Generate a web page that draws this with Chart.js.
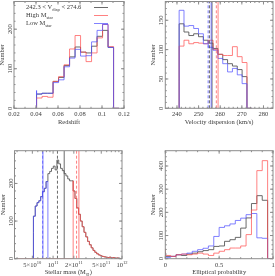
<!DOCTYPE html>
<html>
<head>
<meta charset="utf-8">
<script src="https://cdn.jsdelivr.net/npm/chart.js@4/dist/chart.umd.min.js"></script>
<style>
html, body { margin: 0; padding: 0; background: #fff; }
#wrap { position: relative; width: 275px; height: 276px; }
canvas { position: absolute; left: 0; top: 0; }
</style>
</head>
<body>
<div id="wrap">
<canvas id="zChart" width="275" height="276"></canvas>
<canvas id="vChart" width="275" height="276"></canvas>
<canvas id="mChart" width="275" height="276"></canvas>
<canvas id="pChart" width="275" height="276"></canvas>
</div>
<script>
// redshift histogram
let zEdges = [0.0405, 0.0455, 0.0505, 0.0555, 0.0605, 0.0655, 0.0705, 0.0755, 0.0805, 0.0855, 0.0905, 0.0955, 0.1005, 0.1055, 0.1105, 0.1155];
let zAll  = [34, 36, 38, 38, 68, 78, 108, 130, 155, 142, 140, 157, 182, 197, 154];
let zHigh = [22, 26, 30, 28, 68, 80, 110, 150, 184, 142, 118, 140, 178, 212, 156];
let zLow  = [45, 36, 38, 38, 65, 72, 105, 127, 149, 132, 133, 168, 197, 212, 154];
let zTicks = [0.02, 0.04, 0.06, 0.08, 0.1, 0.12];
let zTickLabels = ['0.02', '0.04', '0.06', '0.08', '0.1', '0.12'];
let legendLabels = ['242.3 < V_{disp} < 274.6', 'High M_{star}', 'Low M_{star}'];

// velocity dispersion histogram
let vEdges = [241.0, 243.24, 245.48, 247.72, 249.96, 252.2, 254.44, 256.68, 258.92, 261.16, 263.4, 265.64, 267.88, 270.12, 272.36, 274.6];
let vAll  = [45, 144, 130, 124, 127, 122, 116, 111, 102, 92, 83, 76, 72, 66, 54];
let vHigh = [34, 106, 116, 110, 112, 111, 110, 116, 100, 92, 90, 90, 105, 88, 78];
let vLow  = [50, 167, 140, 141, 136, 127, 110, 104, 99, 85, 76, 62, 68, 57, 42];
// [median, mean] of each sample
let vLowMarks = [254.4, 255.8];
let vAllMarks = [255.0, 256.2];
let vHighMarks = [258.2, 259.0];
let vTicks = [240, 250, 260, 270, 280];

// stellar mass histogram (log bins)
let mLogStart = 10.715, mLogWidth = 0.0262;
let mLow  = [70, 113, 140, 149, 154, 165, 178, 187, 205];
let mMid  = [226, 232, 240, 246, 236, 262, 252, 240, 234, 226, 220, 212, 207];
let mHigh = [207, 180, 160, 135, 118, 100, 85, 70, 58, 46, 37, 29, 22, 17, 13, 10, 8, 6, 5, 4, 3, 4, 2, 3, 1, 2, 1];
let mLowMarks = [7.05e10, 7.12e10];
let mAllMarks = [1.157e11, 1.449e11];
let mHighMarks = [2.19e11, 2.37e11];
let mTicks = [5e10, 1e11, 2e11, 5e11, 1e12];
let mTickLabels = ['5×10^{10}', '10^{11}', '2×10^{11}', '5×10^{11}', '10^{12}'];
let mMinor = [3e10, 4e10, 6e10, 7e10, 8e10, 9e10, 3e11, 4e11, 6e11, 7e11, 8e11, 9e11];

// elliptical probability histogram
let pEdges = [0, 0.05, 0.1, 0.15, 0.2, 0.25, 0.3, 0.35, 0.4, 0.45, 0.5, 0.55, 0.6, 0.65, 0.7, 0.75, 0.8, 0.85, 0.9, 0.95, 1];
let pAll  = [29, 10, 10, 17, 14, 20, 24, 30, 35, 39, 53, 55, 75, 82, 92, 132, 176, 238, 272, 252];
let pHigh = [43, 14, 10, 17, 20, 17, 20, 24, 20, 14, 24, 32, 39, 46, 46, 55, 104, 210, 380, 423];
let pLow  = [20, 6, 10, 17, 20, 24, 32, 39, 45, 55, 96, 135, 142, 150, 165, 175, 190, 195, 90, 88];

const FONT = '"Liberation Serif", "DejaVu Serif", serif';
const FS = 6.5;
const INK = '#3a3a3a';
const GRAY = 'rgba(80,80,80,0.85)';
const RED = 'rgba(255,80,80,0.72)';
const BLUE = 'rgba(80,80,255,0.72)';

function hist(edges, counts, color, from) {
    let pts = [];
    if (from !== undefined) pts.push({x: from, y: 0});
    pts.push({x: edges[0], y: 0});
    counts.forEach((c, i) => pts.push({x: edges[i], y: c}));
    pts.push({x: edges[counts.length], y: 0});
    return {data: pts, borderColor: color, borderWidth: 1, stepped: 'after', pointRadius: 0, fill: false};
}

function vline(x, top, color, dashed) {
    return {data: [{x: x, y: 0}, {x: x, y: top}], borderColor: color, borderWidth: 1,
            borderDash: dashed ? [3, 2] : [], pointRadius: 0, fill: false};
}

// text with _{sub} and ^{sup} parts
function richText(ctx, str, x, y, align) {
    let runs = [], re = /([_^])\{([^}]*)\}/g, last = 0, m;
    while ((m = re.exec(str))) {
        if (m.index > last) runs.push({t: str.slice(last, m.index), k: ''});
        runs.push({t: m[2], k: m[1]});
        last = re.lastIndex;
    }
    if (last < str.length) runs.push({t: str.slice(last), k: ''});
    let w = 0;
    runs.forEach(r => {
        ctx.font = (r.k ? FS * 0.7 : FS) + 'px ' + FONT;
        r.w = ctx.measureText(r.t).width;
        w += r.w;
    });
    let cx = align == 'center' ? x - w / 2 : align == 'right' ? x - w : x;
    ctx.textAlign = 'left';
    ctx.textBaseline = 'alphabetic';
    runs.forEach(r => {
        ctx.font = (r.k ? FS * 0.7 : FS) + 'px ' + FONT;
        let dy = r.k == '_' ? FS * 0.3 : r.k == '^' ? -FS * 0.45 : 0;
        ctx.fillText(r.t, cx, y + dy);
        cx += r.w;
    });
}

function axesFor(cfg) {
    return {
        id: 'axes',
        afterDraw(chart) {
            const ctx = chart.ctx, a = chart.chartArea, xs = chart.scales.x, ys = chart.scales.y;
            ctx.save();
            ctx.strokeStyle = '#8c8c8c';
            ctx.lineWidth = 1;
            ctx.strokeRect(a.left, a.top, a.right - a.left, a.bottom - a.top);
            ctx.beginPath();
            const xt = (v, len) => {
                let p = xs.getPixelForValue(v);
                ctx.moveTo(p, a.bottom); ctx.lineTo(p, a.bottom - len);
                ctx.moveTo(p, a.top); ctx.lineTo(p, a.top + len);
            };
            const yt = (v, len) => {
                let p = ys.getPixelForValue(v);
                ctx.moveTo(a.left, p); ctx.lineTo(a.left + len, p);
                ctx.moveTo(a.right, p); ctx.lineTo(a.right - len, p);
            };
            cfg.xTicks.forEach(v => xt(v, 3));
            cfg.xMinor.forEach(v => xt(v, 1.5));
            cfg.yTicks.forEach(v => yt(v, 3));
            cfg.yMinor.forEach(v => yt(v, 1.5));
            ctx.stroke();

            ctx.fillStyle = INK;
            cfg.xTicks.forEach((v, i) => richText(ctx, cfg.xLabels[i], xs.getPixelForValue(v), a.bottom + 8, 'center'));
            richText(ctx, cfg.xTitle, (a.left + a.right) / 2, a.bottom + 15.5, 'center');
            cfg.yTicks.forEach((v, i) => {
                ctx.save();
                ctx.translate(a.left - 2, ys.getPixelForValue(v));
                ctx.rotate(-Math.PI / 2);
                richText(ctx, String(v), 0, 0, 'center');
                ctx.restore();
            });
            ctx.save();
            ctx.translate(a.left - 10, (a.top + a.bottom) / 2);
            ctx.rotate(-Math.PI / 2);
            richText(ctx, 'Number', 0, 0, 'center');
            ctx.restore();

            if (cfg.legend) {
                cfg.legend.forEach((e, i) => {
                    let y = a.top + 6 + i * 8;
                    ctx.fillStyle = INK;
                    richText(ctx, e.text, a.left + 12, y + 1.5, 'left');
                    ctx.strokeStyle = e.color;
                    ctx.beginPath();
                    ctx.moveTo(a.left + 80, y); ctx.lineTo(a.left + 94, y);
                    ctx.stroke();
                });
            }
            ctx.restore();
        }
    };
}

function makeChart(id, area, xScale, yMax, datasets, cfg) {
    return new Chart(document.getElementById(id), {
        type: 'line',
        data: {datasets: datasets},
        options: {
            responsive: false,
            animation: false,
            devicePixelRatio: 1,
            events: [],
            layout: {padding: {left: area[0], right: 275 - area[1], top: area[2], bottom: 276 - area[3]}},
            scales: {
                x: Object.assign({display: false}, xScale),
                y: {type: 'linear', display: false, min: 0, max: yMax}
            },
            elements: {line: {tension: 0}, point: {radius: 0}},
            plugins: {legend: {display: false}, tooltip: {enabled: false}}
        },
        plugins: [axesFor(cfg)]
    });
}

let range = (a, b, s) => { let r = []; for (let v = a; v <= b + s / 2; v += s) r.push(+v.toFixed(4)); return r; };

// top left
makeChart('zChart', [14, 124, 1.5, 108.3], {type: 'linear', min: 0.02, max: 0.12}, 270, [
    hist(zEdges, zLow, BLUE),
    hist(zEdges, zHigh, RED),
    hist(zEdges, zAll, GRAY)
], {
    xTicks: zTicks, xLabels: zTickLabels, xMinor: range(0.02, 0.12, 0.01),
    yTicks: [0, 100, 200], yMinor: range(0, 260, 20), xTitle: 'Redshift',
    legend: [{text: legendLabels[0], color: GRAY}, {text: legendLabels[1], color: RED}, {text: legendLabels[2], color: BLUE}]
});

// top right
makeChart('vChart', [165.3, 273, 1.5, 108.3], {type: 'linear', min: 234.6, max: 284.4}, 182, [
    vline(vLowMarks[0], 182, BLUE, true), vline(vLowMarks[1], 182, BLUE, false),
    vline(vAllMarks[0], 182, GRAY, true), vline(vAllMarks[1], 182, GRAY, false),
    vline(vHighMarks[0], 182, RED, true), vline(vHighMarks[1], 182, RED, false),
    hist(vEdges, vLow, BLUE),
    hist(vEdges, vHigh, RED),
    hist(vEdges, vAll, GRAY)
], {
    xTicks: vTicks, xLabels: vTicks.map(String), xMinor: range(236, 284, 2),
    yTicks: [0, 50, 100, 150], yMinor: range(0, 180, 10), xTitle: 'Velocity dispersion (km/s)'
});

// bottom left
let mEdges = [];
for (let k = 0; k <= mLow.length + mMid.length + mHigh.length; k++) mEdges.push(Math.pow(10, mLogStart + mLogWidth * k));
let mCut1 = mLow.length, mCut2 = mLow.length + mMid.length;
let mMin = Math.pow(10, 10.44);
makeChart('mChart', [14.5, 122, 150.7, 258.7], {type: 'logarithmic', min: mMin, max: 1e12}, 287, [
    vline(mLowMarks[0], 287, BLUE, true), vline(mLowMarks[1], 287, BLUE, false),
    vline(mAllMarks[0], 287, GRAY, true), vline(mAllMarks[1], 287, GRAY, false),
    vline(mHighMarks[0], 287, RED, true), vline(mHighMarks[1], 287, RED, false),
    hist(mEdges.slice(mCut2), mHigh, RED, mMin),
    hist(mEdges.slice(0, mCut1 + 1), mLow, BLUE),
    hist(mEdges, mLow.concat(mMid, mHigh), GRAY)
], {
    xTicks: mTicks, xLabels: mTickLabels, xMinor: mMinor,
    yTicks: [0, 100, 200], yMinor: range(0, 280, 20), xTitle: 'Stellar mass (M_{⊙})'
});

// bottom right
makeChart('pChart', [165.3, 273, 150.7, 258.7], {type: 'linear', min: 0, max: 1}, 466, [
    hist(pEdges, pHigh, RED),
    hist(pEdges, pLow, BLUE),
    hist(pEdges, pAll, GRAY)
], {
    xTicks: [0, 0.5, 1], xLabels: ['0', '0.5', '1'], xMinor: range(0, 1, 0.1),
    yTicks: [0, 100, 200, 300, 400], yMinor: range(0, 460, 20), xTitle: 'Elliptical probability'
});
</script>
</body>
</html>
